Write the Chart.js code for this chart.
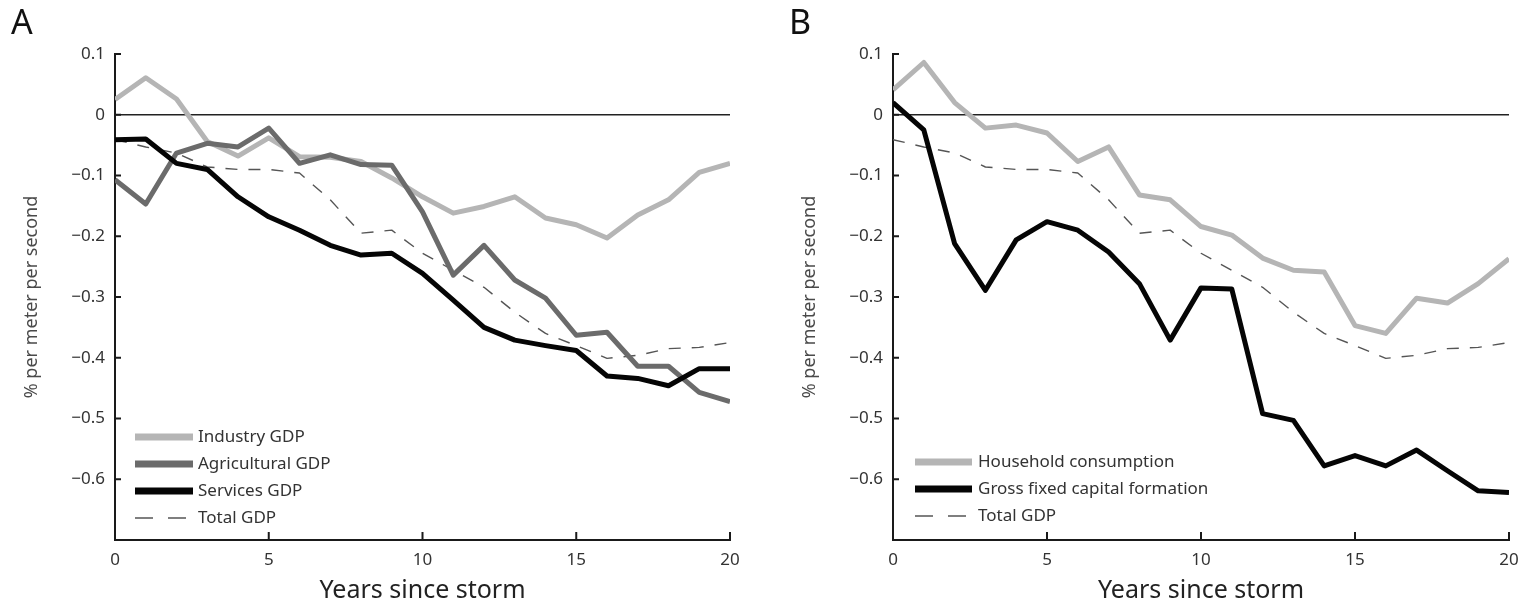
<!DOCTYPE html>
<html>
<head>
<meta charset="utf-8">
<script src="https://cdn.jsdelivr.net/npm/chart.js@4.4.1/dist/chart.umd.min.js"></script>
<style>
html,body{margin:0;padding:0;background:#fff;width:1529px;height:603px;overflow:hidden}
.panel{position:absolute;top:0;height:603px}
#pa{left:0;width:760px}
#pb{left:760px;width:769px}
.letter{position:absolute;top:4px;font-family:'Noto Sans',sans-serif;font-size:34px;line-height:34px;color:#111}
</style>
</head>
<body>
<div class="panel" id="pa"><canvas id="ca"></canvas></div>
<div class="panel" id="pb"><canvas id="cb"></canvas></div>
<div class="letter" style="left:11px">A</div>
<div class="letter" style="left:789px">B</div>
<script>
// ---- data ----
const years = [0,1,2,3,4,5,6,7,8,9,10,11,12,13,14,15,16,17,18,19,20];
const industryGDP     = [0.025,0.061,0.026,-0.044,-0.068,-0.038,-0.069,-0.070,-0.077,-0.104,-0.135,-0.162,-0.151,-0.135,-0.170,-0.181,-0.203,-0.165,-0.140,-0.095,-0.080];
const agriculturalGDP = [-0.107,-0.147,-0.063,-0.047,-0.053,-0.022,-0.080,-0.066,-0.082,-0.083,-0.160,-0.264,-0.215,-0.272,-0.302,-0.363,-0.358,-0.414,-0.414,-0.457,-0.472];
const servicesGDP     = [-0.041,-0.040,-0.080,-0.090,-0.135,-0.168,-0.190,-0.215,-0.231,-0.228,-0.261,-0.305,-0.350,-0.371,-0.380,-0.388,-0.430,-0.434,-0.446,-0.418,-0.418];
const totalGDP        = [-0.041,-0.053,-0.063,-0.086,-0.090,-0.090,-0.096,-0.140,-0.195,-0.190,-0.228,-0.256,-0.284,-0.325,-0.360,-0.380,-0.401,-0.396,-0.385,-0.383,-0.375];
const householdConsumption = [0.041,0.086,0.020,-0.022,-0.017,-0.030,-0.077,-0.053,-0.132,-0.140,-0.184,-0.198,-0.236,-0.256,-0.259,-0.347,-0.360,-0.302,-0.310,-0.278,-0.237];
const grossFixedCapital    = [0.020,-0.025,-0.212,-0.289,-0.206,-0.176,-0.190,-0.226,-0.278,-0.371,-0.285,-0.287,-0.492,-0.503,-0.578,-0.561,-0.578,-0.552,-0.586,-0.619,-0.622];
const xTickValues = [0,5,10,15,20];
const yTickValues = [0.1,0,-0.1,-0.2,-0.3,-0.4,-0.5,-0.6];
const xTitle = 'Years since storm';
const yTitle = '% per meter per second';
const legendA = ['Industry GDP','Agricultural GDP','Services GDP','Total GDP'];
const legendB = ['Household consumption','Gross fixed capital formation','Total GDP'];

Chart.defaults.font.family = "'Noto Sans', sans-serif";
Chart.defaults.color = '#333';

const pts = arr => years.map((x,i)=>({x:x, y:arr[i]}));
const fmtTick = v => v === 0 ? '0' : v.toFixed(1).replace('-', '\u2212');

const inwardTicks = {
  id:'inwardTicks',
  afterDraw(chart){
    const {ctx, chartArea:{left,bottom}, scales:{x,y}} = chart;
    ctx.save();
    ctx.strokeStyle = '#1a1a1a';
    ctx.lineWidth = 2;
    ctx.beginPath();
    xTickValues.forEach(v=>{ if (v===x.min) return; const px = x.getPixelForValue(v); ctx.moveTo(px,bottom); ctx.lineTo(px,bottom-8); });
    yTickValues.forEach(v=>{ const py = y.getPixelForValue(v); ctx.moveTo(left,py); ctx.lineTo(left+6,py); });
    ctx.stroke();
    ctx.restore();
  }
};

const insideLegend = {
  id:'insideLegend',
  afterDraw(chart, args, opts){
    const {ctx, chartArea:{left,bottom}} = chart;
    const ds = chart.data.datasets;
    const n = ds.length;
    ctx.save();
    ctx.font = "17px 'Noto Sans', sans-serif";
    ctx.textBaseline = 'middle';
    ctx.textAlign = 'left';
    ds.forEach((d,i)=>{
      const yy = bottom - opts.lastOffset - (n-1-i)*opts.spacing;
      const x0 = left + opts.lineStart, x1 = left + opts.lineEnd;
      ctx.beginPath();
      ctx.strokeStyle = d.borderColor;
      ctx.lineWidth = d.borderDash ? 1.6 : 7;
      ctx.setLineDash(d.borderDash ? [18,15] : []);
      ctx.lineCap = 'butt';
      ctx.moveTo(x0,yy); ctx.lineTo(x1,yy); ctx.stroke();
      ctx.setLineDash([]);
      ctx.fillStyle = '#333';
      ctx.fillText(d.label, left + opts.textStart, yy);
    });
    ctx.restore();
  }
};

function makeChart(id, datasets, yAxisWidth, rightPad, yTitlePad, legendOpts){
  return new Chart(document.getElementById(id), {
    type:'line',
    data:{datasets:datasets},
    options:{
      responsive:true, maintainAspectRatio:false, animation:false,
      layout:{padding:{left:0, right:rightPad, top:54, bottom:0}},
      elements:{point:{radius:0}, line:{tension:0, borderJoinStyle:'round', borderCapStyle:'butt'}},
      plugins:{legend:{display:false}, tooltip:{enabled:false}, insideLegend:legendOpts},
      scales:{
        x:{
          type:'linear', min:0, max:20,
          afterBuildTicks: s => { s.ticks = xTickValues.map(v=>({value:v})); },
          grid:{display:false},
          border:{display:true, color:'#1a1a1a', width:2},
          ticks:{padding:2, color:'#333', font:{size:17}, maxRotation:0, autoSkip:false, callback: v => String(v)},
          title:{display:true, text:xTitle, color:'#222', font:{size:25, lineHeight:1}, padding:{top:0, bottom:0}},
          afterFit: s => { s.height = 63; }
        },
        y:{
          type:'linear', min:-0.7, max:0.1,
          afterBuildTicks: s => { s.ticks = yTickValues.map(v=>({value:v})); },
          grid:{display:true, drawOnChartArea:true, drawTicks:false,
                color: c => (c.tick && Math.abs(c.tick.value) < 1e-9) ? '#222' : 'rgba(0,0,0,0)', lineWidth:1.4},
          border:{display:true, color:'#1a1a1a', width:2},
          ticks:{padding:10, color:'#333', font:{size:17}, autoSkip:false, callback: v => fmtTick(v)},
          title:{display:true, text:yTitle, color:'#4a4a4a', font:{size:18, lineHeight:1}, padding:{top:yTitlePad, bottom:0}},
          afterFit: s => { s.width = yAxisWidth; }
        }
      }
    },
    plugins:[inwardTicks, insideLegend]
  });
}

const dashStyle = {borderColor:'#555', borderWidth:1.4, borderDash:[12,11]};

makeChart('ca', [
  {label:legendA[0], data:pts(industryGDP), borderColor:'#b5b5b5', borderWidth:5, order:3},
  {label:legendA[1], data:pts(agriculturalGDP), borderColor:'#6b6b6b', borderWidth:5, order:2},
  {label:legendA[2], data:pts(servicesGDP), borderColor:'#050505', borderWidth:5, order:1},
  Object.assign({label:legendA[3], data:pts(totalGDP), order:4}, dashStyle)
], 115, 30, 23, {lineStart:20, lineEnd:78, textStart:83, spacing:27, lastOffset:22});

makeChart('cb', [
  {label:legendB[0], data:pts(householdConsumption), borderColor:'#b5b5b5', borderWidth:5, order:2},
  {label:legendB[1], data:pts(grossFixedCapital), borderColor:'#050505', borderWidth:5, order:1},
  Object.assign({label:legendB[2], data:pts(totalGDP), order:3}, dashStyle)
], 133, 20, 41, {lineStart:22, lineEnd:79, textStart:85, spacing:27, lastOffset:24});
</script>
</body>
</html>
